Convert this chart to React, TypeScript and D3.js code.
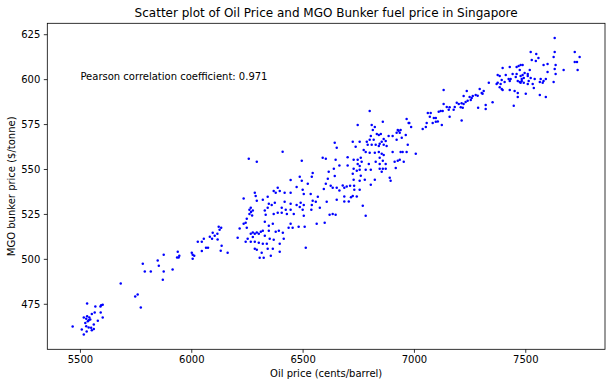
import React from "react";
import { scaleLinear, extent } from "d3";

const width = 612, height = 387;
const margin = { top: 23.3, right: 7, bottom: 37.7, left: 47.3 };

const title = "Scatter plot of Oil Price and MGO Bunker fuel price in Singapore";
const xLabel = "Oil price (cents/barrel)";
const yLabel = "MGO bunker price ($/tonne)";
const note = "Pearson correlation coefficient: 0.971";
const noteAt = [5500, 600];

const xTicks = [5500, 6000, 6500, 7000, 7500];
const yTicks = [475, 500, 525, 550, 575, 600, 625];

// [oil price, MGO price], grouped by band
const lowBand = [
  [5681, 486.5], [5746, 479.4], [5757, 480.4], [5771, 473.2], [5530, 475.4], [5567, 473.7],
  [5590, 473.7], [5600, 474.8], [5593, 474.4], [5465, 462.6], [5515, 467.6], [5530, 468.3],
  [5540, 467.6], [5551, 469.6], [5564, 470.4], [5591, 470.4], [5600, 467.6], [5578, 465.9],
  [5522, 464.6], [5533, 465.5], [5544, 466.5], [5560, 463.7], [5526, 462.8], [5537, 462.1],
  [5548, 461.9], [5560, 461.3], [5506, 461.0], [5528, 459.8], [5551, 460.6], [5515, 458.2],
  [5526, 467.0], [5537, 466.1],
];

const riseBand = [
  [5780, 497.6], [5789, 493.2], [5816, 493.2], [5847, 499.3], [5852, 496.5], [5874, 502.6],
  [5874, 493.2], [5870, 488.7], [5914, 494.3], [5937, 504.3], [5934, 501.0], [5944, 502.0],
  [5941, 501.0], [6000, 503.7], [6004, 502.6], [6004, 500.4], [6011, 502.0], [6027, 509.8],
  [6045, 509.8], [6045, 504.6], [6054, 511.5], [6064, 506.5], [6073, 506.5], [6081, 512.6],
  [6091, 511.5], [6094, 514.8], [6103, 513.2], [6115, 514.3], [6116, 511.0], [6121, 518.2],
  [6132, 517.6], [6125, 516.5], [6134, 507.6], [6130, 504.8], [6161, 503.7], [6206, 512.0],
  [6215, 517.1], [6233, 519.8], [6242, 520.4], [6247, 517.6], [6247, 522.6], [6242, 509.8],
  [6251, 511.5], [6233, 533.8], [6256, 556.0], [6292, 554.3],
];

const denseBand = [
  [6408, 559.9], [6494, 554.9], [6588, 556.5], [6602, 556.0], [6646, 555.4], [6638, 550.4],
  [6444, 544.2], [6485, 545.9], [6494, 543.7], [6543, 548.1], [6539, 545.9], [6615, 548.7],
  [6611, 544.8], [6642, 546.4], [6471, 540.3], [6521, 542.0], [6498, 538.7], [6602, 542.0],
  [6593, 539.2], [6624, 540.9], [6633, 539.8], [6651, 539.8], [6283, 537.0], [6287, 535.3],
  [6341, 534.8], [6368, 538.1], [6386, 539.8], [6377, 537.0], [6395, 538.1], [6417, 537.0],
  [6444, 537.0], [6503, 536.4], [6534, 536.4], [6566, 534.8], [6557, 532.0], [6543, 532.6],
  [6539, 530.3], [6606, 532.0], [6651, 533.1], [6292, 532.6], [6319, 533.1], [6346, 530.9],
  [6359, 530.3], [6373, 531.5], [6417, 532.0], [6444, 530.9], [6471, 530.3], [6489, 531.5],
  [6503, 530.3], [6485, 529.2], [6444, 527.6], [6458, 525.3], [6498, 527.6], [6503, 524.2],
  [6537, 527.6], [6575, 528.7], [6619, 524.8], [6633, 525.3], [6646, 524.8], [6259, 527.6],
  [6266, 526.3], [6274, 527.2], [6259, 525.3], [6271, 524.4], [6265, 528.7], [6368, 525.3],
  [6386, 525.9], [6404, 525.9], [6427, 525.3], [6332, 524.8], [6364, 519.8], [6444, 519.8],
  [6480, 518.1], [6507, 518.1], [6561, 519.8], [6597, 520.4], [6328, 520.9], [6346, 518.7],
  [6310, 515.4], [6301, 514.2], [6292, 515.0], [6283, 514.2], [6274, 515.0], [6265, 514.2],
  [6319, 515.9], [6346, 515.9], [6377, 515.4], [6391, 515.9], [6409, 514.8], [6435, 517.6],
  [6453, 517.6], [6265, 509.8], [6283, 509.8], [6301, 509.2], [6319, 508.7], [6368, 510.9],
  [6395, 508.7], [6413, 511.5], [6283, 505.9], [6292, 505.4], [6314, 503.7], [6341, 505.9],
  [6364, 505.9], [6395, 504.2], [6512, 506.5], [6305, 500.9], [6323, 500.9], [6355, 502.0],
  [6274, 512.4], [6328, 513.1], [6350, 511.5], [6337, 508.7], [6422, 527.6], [6404, 528.7],
  [6328, 527.2], [6341, 528.7], [6642, 564.9], [6651, 562.1],
];

const upperBand = [
  [6799, 582.6], [6745, 574.8], [6808, 574.8], [6822, 573.7], [6858, 576.5], [6965, 578.1],
  [6974, 575.9], [6813, 572.0], [6831, 569.8], [6840, 569.2], [6849, 569.8], [6804, 568.7],
  [6884, 568.7], [6902, 568.7], [6920, 570.4], [6929, 571.5], [6938, 572.0], [6925, 572.0],
  [6934, 570.4], [6961, 569.2], [6943, 567.6], [6920, 566.5], [6862, 567.0], [6871, 565.9],
  [6853, 565.4], [6844, 564.3], [6817, 566.5], [6799, 566.5], [6723, 565.4], [6754, 565.4],
  [6786, 565.4], [6790, 563.7], [6808, 563.7], [6826, 563.7], [6840, 563.1], [6862, 563.7],
  [6875, 563.1], [6970, 563.7], [6736, 562.6], [6772, 560.9], [6781, 559.8], [6799, 559.3],
  [6822, 559.3], [6840, 559.8], [6853, 558.7], [6862, 558.1], [6902, 559.8], [6938, 559.8],
  [6947, 559.8], [6965, 559.8], [7006, 558.7], [6700, 556.8], [6727, 555.4], [6745, 555.4],
  [6759, 556.5], [6763, 554.3], [6795, 553.1], [6826, 554.3], [6844, 556.5], [6858, 554.8],
  [6844, 553.1], [6871, 553.1], [6911, 554.3], [6925, 554.8], [6934, 555.4], [6952, 554.3],
  [6663, 552.2], [6700, 552.2], [6745, 553.1], [6754, 552.0], [6727, 550.4], [6741, 549.3],
  [6754, 549.8], [6781, 549.8], [6804, 549.8], [6844, 550.4], [6858, 550.4], [6871, 550.4],
  [6853, 548.7], [6916, 550.9], [6759, 546.5], [6723, 547.6], [6727, 544.3], [6754, 543.7],
  [6777, 544.3], [6822, 544.3], [6889, 545.4], [6893, 543.7], [6804, 541.5], [6678, 541.1],
  [6685, 539.8], [6696, 540.6], [6711, 541.0], [6729, 541.0], [6663, 538.3], [6730, 538.7],
  [6754, 538.7], [6685, 535.0], [6715, 534.6], [6723, 535.2], [6741, 535.0], [6685, 532.2],
  [6705, 532.2], [6768, 529.8], [6781, 524.3],
];

const topBand = [
  [7630, 623.1], [7522, 615.4], [7547, 614.2], [7557, 612.0], [7527, 610.9], [7545, 610.4],
  [7630, 615.4], [7625, 612.6], [7720, 615.4], [7742, 612.6], [7720, 609.8], [7730, 609.8],
  [7733, 605.4], [7670, 605.4], [7634, 608.1], [7630, 605.9], [7634, 603.1], [7625, 598.7],
  [7598, 608.7], [7580, 608.1], [7598, 604.3], [7567, 600.4], [7580, 599.3], [7576, 598.2],
  [7590, 600.4], [7563, 598.7], [7531, 597.6], [7540, 600.4], [7518, 605.4], [7522, 600.9],
  [7509, 603.1], [7509, 602.0], [7495, 603.7], [7486, 602.6], [7491, 600.9], [7482, 600.4],
  [7477, 608.1], [7468, 607.6], [7459, 607.0], [7473, 605.4], [7486, 608.1], [7477, 602.0],
  [7482, 599.3], [7491, 598.2], [7477, 598.2], [7473, 598.7], [7464, 599.3], [7459, 603.1],
  [7455, 601.5], [7441, 603.1], [7428, 607.0], [7396, 606.5], [7432, 600.4], [7423, 600.4],
  [7428, 599.3], [7410, 602.6], [7383, 602.0], [7374, 602.6], [7392, 599.8], [7405, 598.7],
  [7387, 597.6], [7369, 597.6], [7374, 598.2], [7383, 595.7], [7392, 594.8], [7396, 594.3],
  [7334, 598.2], [7311, 593.7], [7302, 592.6], [7306, 592.1], [7293, 594.8], [7275, 591.5],
  [7284, 591.0], [7235, 593.7], [7131, 594.3], [7221, 590.9], [7248, 590.4], [7257, 589.8],
  [7262, 590.9], [7253, 588.7], [7239, 588.2], [7230, 587.6], [7221, 586.5], [7212, 586.9],
  [7199, 586.5], [7190, 587.2], [7208, 584.6], [7217, 584.3], [7181, 584.8], [7158, 584.6],
  [7154, 583.2], [7145, 584.8], [7131, 586.5], [7127, 582.6], [7118, 582.6], [7109, 582.1],
  [7176, 583.2], [7286, 584.3], [7320, 585.9], [7320, 583.7], [7351, 587.4], [7212, 577.2],
  [7158, 579.3], [7073, 581.5], [7060, 581.5], [7069, 579.3], [7087, 578.7], [7096, 578.7],
  [7082, 575.9], [7096, 576.5], [7105, 576.7], [7123, 574.8], [7055, 575.9], [7051, 573.7],
  [7037, 572.6], [6985, 573.7], [6977, 575.9], [7428, 594.3], [7450, 593.7], [7464, 590.4],
  [7464, 592.6], [7500, 592.1], [7446, 585.4], [7509, 597.6], [7513, 599.3], [7536, 595.4],
  [7563, 591.5], [7590, 590.4],
];

const points = [...lowBand, ...riseBand, ...denseBand, ...upperBand, ...topBand];

// matplotlib-style 5% autoscale margin
const pad = (lo: number, hi: number) => {
  const m = (hi - lo) * 0.05;
  return [lo - m, hi + m];
};

const font = "'DejaVu Sans', sans-serif";

export default function App() {
  const iw = width - margin.left - margin.right;
  const ih = height - margin.top - margin.bottom;
  const [x0, x1] = extent(points, d => d[0]) as [number, number];
  const [y0, y1] = extent(points, d => d[1]) as [number, number];
  const x = scaleLinear().domain(pad(x0, x1)).range([0, iw]);
  const y = scaleLinear().domain(pad(y0, y1)).range([ih, 0]);

  return (
    <svg width={width} height={height} style={{ position: "absolute", left: 0, top: 0, background: "#fff" }}
      fontFamily={font}>
      <text x={margin.left + iw / 2} y={17.3} textAnchor="middle" fontSize={12}>{title}</text>
      <g transform={`translate(${margin.left},${margin.top})`}>
        {points.map((d, i) => (
          <circle key={i} cx={x(d[0])} cy={y(d[1])} r={1.25} fill="blue" />
        ))}
        <text x={x(noteAt[0])} y={y(noteAt[1])} fontSize={10}>{note}</text>
        <rect x={0} y={0} width={iw} height={ih} fill="none" stroke="black" strokeWidth={0.8} />
        {xTicks.map(t => (
          <g key={t} transform={`translate(${x(t)},${ih})`}>
            <line y2={3.5} stroke="black" strokeWidth={0.8} />
            <text y={14} textAnchor="middle" fontSize={10}>{t}</text>
          </g>
        ))}
        {yTicks.map(t => (
          <g key={t} transform={`translate(0,${y(t)})`}>
            <line x2={-3.5} stroke="black" strokeWidth={0.8} />
            <text x={-7} dy="0.35em" textAnchor="end" fontSize={10}>{t}</text>
          </g>
        ))}
        <text x={iw / 2} y={ih + 28} textAnchor="middle" fontSize={10}>{xLabel}</text>
      </g>
      <text transform={`translate(14.5,${margin.top + ih / 2}) rotate(-90)`} textAnchor="middle" fontSize={10}>{yLabel}</text>
    </svg>
  );
}
